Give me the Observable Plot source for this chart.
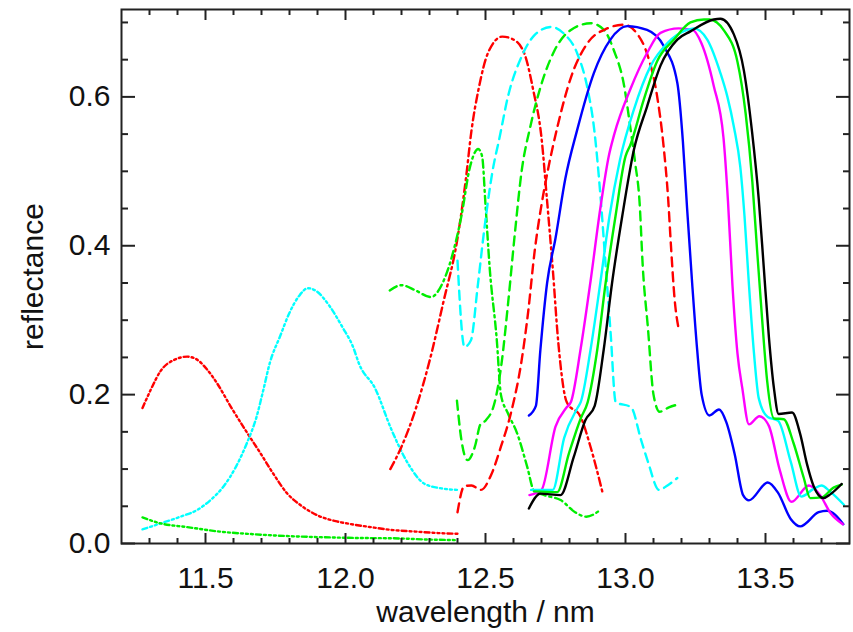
<!DOCTYPE html>
<html><head><meta charset="utf-8">
<script src="https://cdn.jsdelivr.net/npm/d3@7"></script>
<script src="https://cdn.jsdelivr.net/npm/@observablehq/plot@0.6"></script>
<style>body{margin:0;background:#fff}</style>
</head><body><div id="chart"></div>
<script>
// ---- data: [wavelength (nm), reflectance] ----
const redLong = [[11.275,0.182],[11.305,0.207],[11.34,0.232],[11.39,0.247],[11.435,0.251],[11.47,0.247],[11.505,0.234],[11.54,0.216],[11.59,0.184],[11.65,0.148],[11.695,0.122],[11.74,0.095],[11.79,0.068],[11.845,0.050],[11.905,0.037],[11.965,0.030],[12.005,0.027],[12.09,0.022],[12.17,0.018],[12.25,0.016],[12.33,0.014],[12.40,0.013]];
const cyanLong = [[11.275,0.019],[11.34,0.027],[11.41,0.036],[11.47,0.045],[11.52,0.059],[11.565,0.077],[11.61,0.104],[11.648,0.135],[11.683,0.171],[11.707,0.207],[11.73,0.243],[11.766,0.278],[11.80,0.310],[11.837,0.334],[11.866,0.343],[11.896,0.339],[11.943,0.319],[11.99,0.29],[12.026,0.265],[12.05,0.24],[12.105,0.209],[12.164,0.153],[12.224,0.107],[12.283,0.080],[12.343,0.074],[12.398,0.072]];
const greenLong = [[11.275,0.035],[11.34,0.027],[11.435,0.022],[11.55,0.016],[11.67,0.0125],[11.79,0.010],[11.91,0.0085],[12.03,0.0075],[12.17,0.007],[12.28,0.0055],[12.40,0.0045]];

const redDashDot = [[12.16,0.10],[12.20,0.13],[12.25,0.18],[12.30,0.245],[12.35,0.325],[12.40,0.41],[12.43,0.49],[12.45,0.555],[12.475,0.61],[12.51,0.66],[12.56,0.681],[12.60,0.677],[12.64,0.657],[12.67,0.61],[12.70,0.545],[12.72,0.46],[12.74,0.37],[12.76,0.27],[12.79,0.19],[12.84,0.17],[12.875,0.13],[12.917,0.07]];
const greenDashDot = [[12.158,0.340],[12.20,0.347],[12.25,0.340],[12.305,0.331],[12.343,0.347],[12.379,0.384],[12.414,0.44],[12.444,0.505],[12.474,0.530],[12.488,0.52],[12.50,0.455],[12.515,0.37],[12.54,0.275],[12.555,0.20],[12.58,0.175],[12.613,0.148],[12.649,0.103],[12.673,0.071],[12.71,0.065],[12.77,0.058],[12.82,0.042],[12.86,0.036],[12.91,0.045]];

const cyanDashed = [[12.40,0.38],[12.425,0.264],[12.448,0.273],[12.472,0.345],[12.495,0.42],[12.525,0.50],[12.55,0.545],[12.58,0.60],[12.63,0.655],[12.675,0.683],[12.734,0.694],[12.78,0.685],[12.828,0.658],[12.864,0.612],[12.888,0.557],[12.911,0.465],[12.929,0.374],[12.947,0.282],[12.965,0.19],[13.02,0.183],[13.055,0.14],[13.08,0.11],[13.12,0.072],[13.15,0.078],[13.185,0.088]];
const greenDashed = [[12.398,0.192],[12.414,0.139],[12.436,0.112],[12.462,0.13],[12.482,0.16],[12.50,0.165],[12.533,0.19],[12.557,0.241],[12.581,0.324],[12.605,0.417],[12.629,0.50],[12.66,0.56],[12.698,0.615],[12.746,0.662],[12.805,0.69],[12.876,0.699],[12.923,0.69],[12.959,0.662],[12.994,0.617],[13.018,0.557],[13.035,0.51],[13.05,0.46],[13.062,0.37],[13.08,0.29],[13.10,0.20],[13.122,0.177],[13.155,0.183],[13.19,0.187]];
const redDashed = [[12.40,0.042],[12.424,0.077],[12.45,0.078],[12.484,0.072],[12.52,0.092],[12.555,0.13],[12.59,0.174],[12.629,0.246],[12.652,0.31],[12.676,0.394],[12.70,0.455],[12.722,0.50],[12.757,0.56],[12.805,0.626],[12.864,0.672],[12.935,0.692],[12.994,0.697],[13.041,0.685],[13.077,0.658],[13.112,0.603],[13.136,0.534],[13.152,0.465],[13.163,0.396],[13.175,0.33],[13.19,0.288]];

const blueSolid = [[12.655,0.172],[12.68,0.185],[12.696,0.26],[12.72,0.35],[12.75,0.41],[12.785,0.49],[12.827,0.555],[12.887,0.632],[12.946,0.677],[13.006,0.695],[13.077,0.69],[13.137,0.668],[13.185,0.619],[13.205,0.54],[13.22,0.45],[13.238,0.35],[13.256,0.26],[13.272,0.20],[13.30,0.172],[13.334,0.18],[13.36,0.163],[13.39,0.12],[13.42,0.065],[13.441,0.058],[13.508,0.082],[13.545,0.068],[13.59,0.033],[13.624,0.023],[13.69,0.042],[13.72,0.044],[13.778,0.026]];
const magentaSolid = [[12.657,0.065],[12.70,0.072],[12.75,0.157],[12.79,0.183],[12.805,0.19],[12.84,0.262],[12.875,0.352],[12.91,0.45],[12.94,0.52],[12.96,0.55],[13.018,0.611],[13.077,0.659],[13.125,0.686],[13.19,0.692],[13.24,0.69],[13.27,0.673],[13.315,0.615],[13.35,0.545],[13.366,0.46],[13.382,0.347],[13.40,0.255],[13.417,0.209],[13.441,0.160],[13.478,0.171],[13.512,0.158],[13.55,0.100],[13.593,0.056],[13.655,0.078],[13.695,0.065],[13.732,0.041],[13.776,0.026]];
const cyanSolid = [[12.663,0.072],[12.74,0.072],[12.781,0.142],[12.83,0.183],[12.84,0.19],[12.875,0.26],[12.91,0.35],[12.943,0.44],[12.98,0.515],[13.03,0.583],[13.089,0.641],[13.149,0.672],[13.22,0.69],[13.244,0.692],[13.292,0.677],[13.339,0.632],[13.364,0.60],[13.387,0.56],[13.41,0.506],[13.425,0.44],[13.441,0.347],[13.459,0.255],[13.476,0.195],[13.508,0.17],[13.545,0.165],[13.59,0.11],[13.628,0.063],[13.67,0.073],[13.70,0.078],[13.73,0.07],[13.78,0.052]];
const greenSolid = [[12.673,0.07],[12.756,0.069],[12.798,0.121],[12.84,0.168],[12.865,0.19],[12.899,0.26],[12.929,0.35],[12.964,0.439],[13.0,0.52],[13.018,0.536],[13.065,0.596],[13.113,0.648],[13.173,0.677],[13.232,0.70],[13.28,0.704],[13.30,0.704],[13.352,0.689],[13.40,0.647],[13.429,0.578],[13.453,0.486],[13.47,0.394],[13.488,0.301],[13.506,0.218],[13.53,0.168],[13.565,0.167],[13.60,0.135],[13.636,0.089],[13.66,0.061],[13.70,0.062],[13.743,0.075],[13.772,0.079]];
const blackSolid = [[12.655,0.047],[12.696,0.067],[12.768,0.065],[12.815,0.116],[12.857,0.166],[12.89,0.185],[12.922,0.26],[12.952,0.35],[12.988,0.439],[13.03,0.529],[13.077,0.587],[13.125,0.642],[13.185,0.677],[13.232,0.688],[13.315,0.704],[13.339,0.705],[13.387,0.684],[13.423,0.635],[13.452,0.553],[13.476,0.462],[13.494,0.37],[13.512,0.278],[13.53,0.209],[13.547,0.174],[13.595,0.176],[13.624,0.147],[13.648,0.107],[13.672,0.077],[13.707,0.061],[13.731,0.066],[13.772,0.08]];

const xMajorTicks = [11.5, 12.0, 12.5, 13.0, 13.5];
const xMinorTicks = [11.3,11.4,11.6,11.7,11.8,11.9,12.1,12.2,12.3,12.4,12.6,12.7,12.8,12.9,13.1,13.2,13.3,13.4,13.6,13.7];
const yMajorTicks = [0.0, 0.2, 0.4, 0.6];
const yMinorTicks = [0.05,0.1,0.15,0.25,0.3,0.35,0.45,0.5,0.55,0.65,0.7];
const xTitle = "wavelength / nm";
const yTitle = "reflectance";

// ---- styles ----
const DASH = "9,6", DASHDOT = "8,4,2,4", DASH3DOT = "5,3,2,3,2,3,2,3";
const series = [
  {d: redLong, c: "#ff0000", s: DASH3DOT},
  {d: cyanLong, c: "#00ffff", s: DASH3DOT},
  {d: greenLong, c: "#00ee00", s: DASH3DOT},
  {d: redDashDot, c: "#ff0000", s: DASHDOT},
  {d: greenDashDot, c: "#00ee00", s: DASHDOT},
  {d: cyanDashed, c: "#00ffff", s: DASH},
  {d: greenDashed, c: "#00ee00", s: DASH},
  {d: redDashed, c: "#ff0000", s: DASH},
  {d: blueSolid, c: "#0000ff", s: null},
  {d: magentaSolid, c: "#ff00ff", s: null},
  {d: cyanSolid, c: "#00ffff", s: null},
  {d: greenSolid, c: "#00ee00", s: null},
  {d: blackSolid, c: "#000000", s: null}
];

const FONT = "Liberation Sans, Arial, Helvetica, sans-serif";
const FS = 30;
const AX = "#222";

const lineMarks = series.map(s => Plot.line(s.d, {
  x: d => d[0], y: d => d[1], stroke: s.c, strokeWidth: 2.4,
  strokeDasharray: s.s || undefined, strokeLinejoin: "round", curve: "monotone-x"
}));

const tickMarks = [
  Plot.axisX({anchor: "bottom", ticks: xMajorTicks, tickSize: -10, fill: "none", label: null, stroke: AX, strokeWidth: 2}),
  Plot.axisX({anchor: "bottom", ticks: xMinorTicks, tickSize: -5, fill: "none", label: null, stroke: AX, strokeWidth: 2}),
  Plot.axisX({anchor: "top", ticks: xMajorTicks, tickSize: -10, fill: "none", label: null, stroke: AX, strokeWidth: 2}),
  Plot.axisX({anchor: "top", ticks: xMinorTicks, tickSize: -5, fill: "none", label: null, stroke: AX, strokeWidth: 2}),
  Plot.axisY({anchor: "left", ticks: yMajorTicks, tickSize: -14, fill: "none", label: null, stroke: AX, strokeWidth: 2}),
  Plot.axisY({anchor: "left", ticks: yMinorTicks, tickSize: -7, fill: "none", label: null, stroke: AX, strokeWidth: 2}),
  Plot.axisY({anchor: "right", ticks: yMajorTicks, tickSize: -14, fill: "none", label: null, stroke: AX, strokeWidth: 2}),
  Plot.axisY({anchor: "right", ticks: yMinorTicks, tickSize: -7, fill: "none", label: null, stroke: AX, strokeWidth: 2})
];

const labelMarks = [
  Plot.axisX({anchor: "bottom", ticks: xMajorTicks, tickSize: 0, tickPadding: 23, tickFormat: d => d.toFixed(1), label: null, fontSize: FS, fill: "#111", fontFamily: FONT}),
  Plot.axisY({anchor: "left", ticks: yMajorTicks, tickSize: 0, tickPadding: 11, tickFormat: d => d.toFixed(1), label: null, fontSize: FS, fill: "#111", fontFamily: FONT}),
  Plot.text([xTitle], {frameAnchor: "bottom", lineAnchor: "middle", textAnchor: "middle", dy: 69, text: d => d, fontSize: FS, fill: "#111", fontFamily: FONT}),
  Plot.text([yTitle], {frameAnchor: "left", lineAnchor: "middle", textAnchor: "middle", dx: -88, rotate: -90, text: d => d, fontSize: FS, fill: "#111", fontFamily: FONT})
];

const chart = Plot.plot({
  width: 853, height: 632,
  marginLeft: 121, marginRight: 4, marginTop: 9, marginBottom: 89,
  x: {domain: [11.2, 13.8]},
  y: {domain: [0, 0.7174]},
  style: {background: "#fff", fontFamily: FONT},
  marks: [
    ...lineMarks,
    Plot.frame({stroke: AX, strokeWidth: 2}),
    ...tickMarks,
    ...labelMarks
  ]
});
document.getElementById("chart").appendChild(chart);
</script></body></html>
